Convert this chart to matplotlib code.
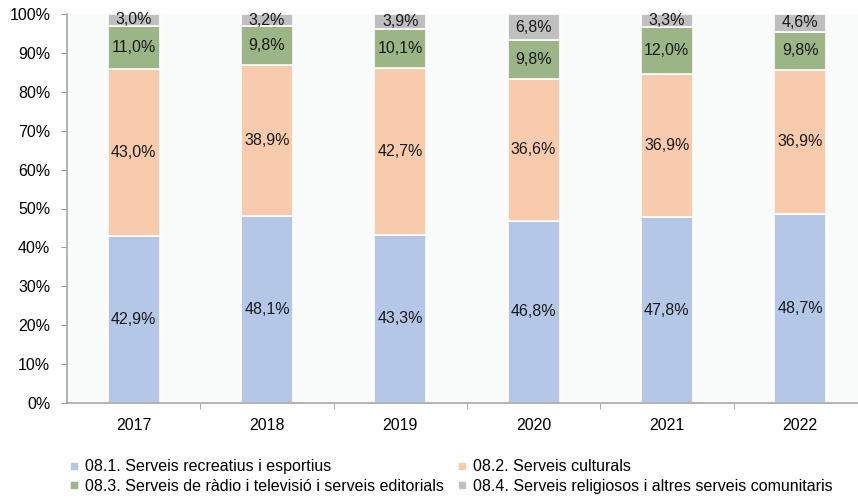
import matplotlib
matplotlib.use("Agg")
import matplotlib.pyplot as plt
import numpy as np
from matplotlib.lines import Line2D

plt.rcParams['font.family'] = ['Liberation Sans', 'DejaVu Sans']

years = ["2017", "2018", "2019", "2020", "2021", "2022"]
s1 = [42.9, 48.1, 43.3, 46.8, 47.8, 48.7]
s2 = [43.0, 38.9, 42.7, 36.6, 36.9, 36.9]
s3 = [11.0, 9.8, 10.1, 9.8, 12.0, 9.8]
s4 = [3.0, 3.2, 3.9, 6.8, 3.3, 4.6]
names = ["08.1. Serveis recreatius i esportius",
         "08.2. Serveis culturals",
         "08.3. Serveis de ràdio i televisió i serveis editorials",
         "08.4. Serveis religiosos i altres serveis comunitaris"]
colors = ["#B4C7E7", "#F8CBAD", "#9BB586", "#BFBFBF"]

W, H = 858, 499
fig = plt.figure(figsize=(W/100, H/100), dpi=100)
ax = fig.add_axes([67/W, (H-403)/H, (W-67)/W, (403-14)/H])
ax.set_facecolor("#FAFCFC")

FS = 11.5
series = [s1, s2, s3, s4]
arr = np.array(series, dtype=float)
tot = arr.sum(axis=0)
x = np.arange(len(years))
bottom = np.zeros(len(years))
for vals, col in zip(series, colors):
    v = np.array(vals) / tot * 100
    ax.bar(x, v, 0.39, bottom=bottom, color=col, edgecolor="white", linewidth=1.2)
    for xi, b, h, lab in zip(x, bottom, v, vals):
        ax.text(xi, b + h/2, f"{lab:.1f}%".replace(".", ","), ha="center", va="center",
                fontsize=FS, color="#1a1a1a")
    bottom += v

ax.set_ylim(0, 100)
ax.set_xlim(-0.5, -0.5 + (W-67)/133.3)
ax.set_yticks(np.arange(0, 101, 10))
ax.set_yticklabels([f"{t}%" for t in range(0, 101, 10)], fontsize=FS)
ax.set_xticks(x)
ax.set_xticklabels(years, fontsize=FS)
ax.set_xticks(np.arange(0.5, 5.5, 1), minor=True)
ax.tick_params(axis="x", which="major", length=0, pad=11)
ax.tick_params(axis="x", which="minor", length=4, color="#999999", direction="out")
ax.tick_params(axis="y", length=4, color="#999999", pad=8)
for s in ["top", "right"]:
    ax.spines[s].set_visible(False)
for s in ["left", "bottom"]:
    ax.spines[s].set_color("#A6A6A6")
    ax.spines[s].set_linewidth(1.2)

handles = [Line2D([], [], marker="s", linestyle="none", markersize=5,
                  markerfacecolor=c, markeredgecolor=c) for c in colors]
order = [0, 2, 1, 3]
fig.legend([handles[i] for i in order], [names[i] for i in order], ncol=2,
           loc="upper left", bbox_to_anchor=(55/W, 1 - 448/H), frameon=False,
           fontsize=FS, handletextpad=0.2, handlelength=1.0, columnspacing=0.6,
           labelspacing=0.3, borderpad=0.2)

fig.savefig("out.png", dpi=100)
